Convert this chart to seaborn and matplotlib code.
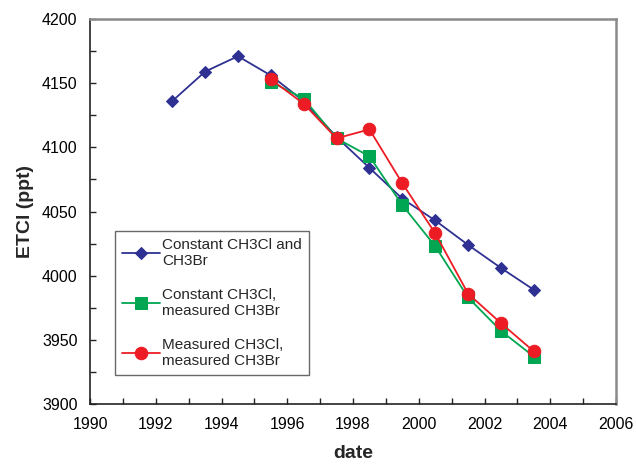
import matplotlib
matplotlib.use("Agg")
import matplotlib.pyplot as plt
from matplotlib.ticker import MultipleLocator
import numpy as np
import pandas as pd
import seaborn as sns

# Years (mid-year values)
years_const = [1992.5, 1993.5, 1994.5, 1995.5, 1996.5, 1997.5, 1998.5,
               1999.5, 2000.5, 2001.5, 2002.5, 2003.5]
years_meas = [1995.5, 1996.5, 1997.5, 1998.5, 1999.5, 2000.5, 2001.5,
              2002.5, 2003.5]

# ETCl (ppt) for each scenario
etcl_const_both = [4136, 4159, 4171, 4156, 4136, 4108, 4084, 4060, 4043,
                   4024, 4006, 3989]
etcl_const_cl = [4151, 4138, 4107, 4093, 4055, 4023, 3983, 3957, 3937]
etcl_meas_both = [4153, 4134, 4107, 4114, 4072, 4033, 3986, 3963, 3941]

labels = ["Constant CH3Cl and\nCH3Br",
          "Constant CH3Cl,\nmeasured CH3Br",
          "Measured CH3Cl,\nmeasured CH3Br"]

df = pd.concat([
    pd.DataFrame({"date": years_const, "ETCl": etcl_const_both, "run": labels[0]}),
    pd.DataFrame({"date": years_meas, "ETCl": etcl_const_cl, "run": labels[1]}),
    pd.DataFrame({"date": years_meas, "ETCl": etcl_meas_both, "run": labels[2]}),
])

sns.set_style("white")
plt.rcParams["font.family"] = ["Liberation Sans", "DejaVu Sans"]

colors = {labels[0]: "#2E3192", labels[1]: "#00A651", labels[2]: "#ED1C24"}
markers = {labels[0]: "D", labels[1]: "s", labels[2]: "o"}
msizes = {labels[0]: 6.5, labels[1]: 8, labels[2]: 9}

fig = plt.figure(figsize=(6.36, 4.65), dpi=100)
ax = fig.add_axes([90 / 636, 61 / 465, 526 / 636, 385 / 465])

for lab in labels:
    sub = df[df["run"] == lab]
    sns.lineplot(data=sub, x="date", y="ETCl", ax=ax, color=colors[lab],
                 marker=markers[lab], markersize=msizes[lab],
                 markeredgecolor=colors[lab], linewidth=1.3, label=lab,
                 sort=False)

ax.set_xlim(1990, 2006)
ax.set_ylim(3900, 4200)
ax.xaxis.set_major_locator(MultipleLocator(2))
ax.xaxis.set_minor_locator(MultipleLocator(1))
ax.yaxis.set_major_locator(MultipleLocator(50))
ax.yaxis.set_minor_locator(MultipleLocator(25))
ax.tick_params(axis="both", which="both", direction="in", color="#222222",
               labelcolor="black", width=1, length=4,
               bottom=True, left=True, top=False, right=False)
ax.tick_params(axis="both", which="major", labelsize=11.5)
ax.tick_params(axis="x", which="major", pad=9)
ax.tick_params(axis="y", which="major", pad=9)

for side in ["left", "bottom"]:
    ax.spines[side].set_color("#222222")
    ax.spines[side].set_linewidth(1.2)
for side in ["top", "right"]:
    ax.spines[side].set_color("#8a8a8a")
    ax.spines[side].set_linewidth(1.8)

ax.set_xlabel("date", fontsize=14, fontweight="bold", labelpad=10)
ax.set_ylabel("ETCl (ppt)", fontsize=14, fontweight="bold", labelpad=6)

leg = ax.legend(loc="upper left", bbox_to_anchor=(0.047, 0.449),
                fontsize=11, frameon=True, fancybox=False, handlelength=2.5,
                labelspacing=1.3, borderpad=0.45, handletextpad=0.15,
                borderaxespad=0)
leg.get_frame().set_edgecolor("#444444")
leg.get_frame().set_linewidth(1.0)

fig.savefig("out.png", dpi=100)
